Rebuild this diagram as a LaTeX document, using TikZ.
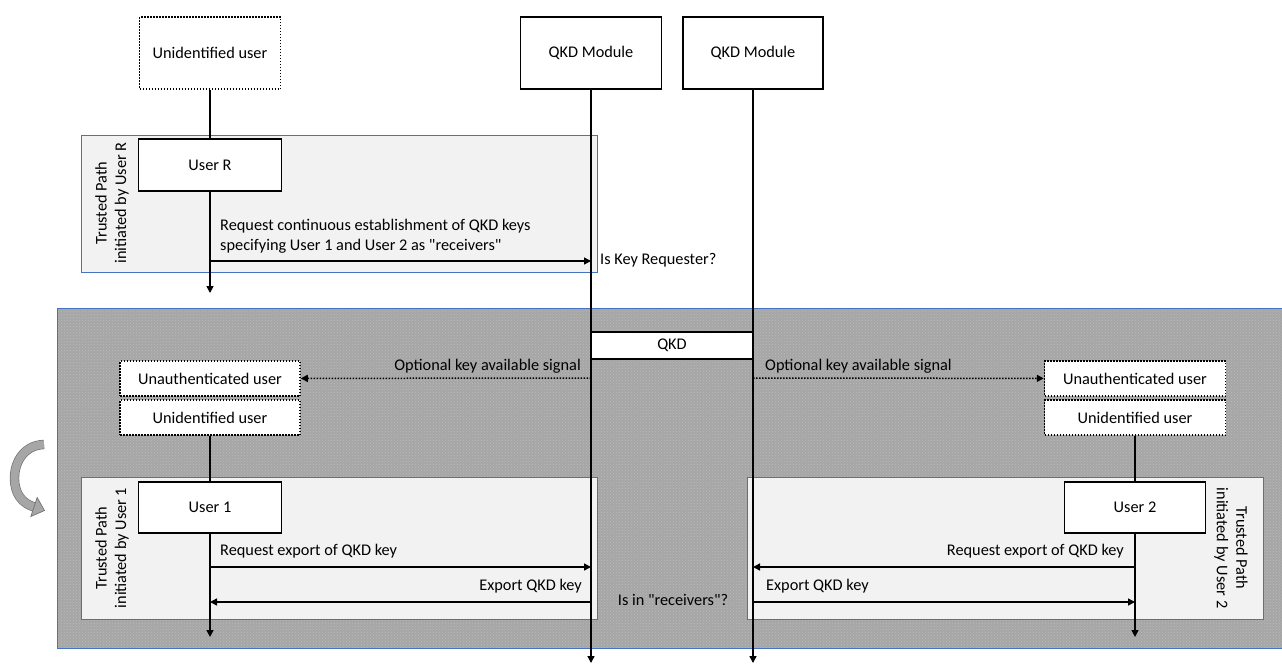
\documentclass[tikz,border=0pt]{standalone}
\usepackage{fontspec}
\setmainfont{Carlito}[Ligatures=TeXOff]
\usepackage{xcolor}
\usetikzlibrary{arrows.meta,patterns,calc}

\definecolor{pathblue}{HTML}{4472C4}
\definecolor{pathfill}{HTML}{F2F2F2}
\definecolor{zonegray}{HTML}{A6A6A6}

\begin{document}
\begin{tikzpicture}[x=1pt, y=-1pt,
  font=\fontsize{16.3}{19.5}\selectfont,
  actorbox/.style={draw, line width=1.5pt, fill=white, inner sep=0pt},
  unknownbox/.style={actorbox, dash pattern=on 1.5pt off 1.5pt},
  life/.style={line width=1.5pt},
  lifeend/.style={line width=1.5pt, -{Triangle[length=7pt,width=7pt]}},
  msg/.style={line width=1.5pt, -{Triangle[length=7pt,width=7pt]}},
  signal/.style={msg, dash pattern=on 1.5pt off 1.5pt},
  pathbox/.style={draw=pathblue, fill=pathfill, line width=0.9pt},
  sidelbl/.style={align=center, inner sep=0pt}]
  \useasboundingbox (0,0) rectangle (1282,664);

  % Zone of the continuous QKD exchange
  \fill[zonegray] (57,308) rectangle (1290,648);
  \fill[pattern=crosshatch dots, pattern color=black!27] (57,308) rectangle (1290,648);
  \draw[pathblue, line width=0.9pt] (57,308) rectangle (1290,648);

  % Trusted path boxes
  \draw[pathbox] (81,135) rectangle (597,272);
  \draw[pathbox] (81,477) rectangle (597,619);
  \draw[pathbox] (747,477) rectangle (1263,619);
  \node[sidelbl, rotate=90] (tpR) at (112,203) {Trusted Path\\initiated by User R};
  \node[sidelbl, rotate=90] (tp1) at (112,548) {Trusted Path\\initiated by User 1};
  \node[sidelbl, rotate=-90] (tp2) at (1231,548) {Trusted Path\\initiated by User 2};

  % Actors
  \node[unknownbox, minimum width=141pt, minimum height=72pt] (uu) at (210,53) {Unidentified user};
  \node[actorbox, minimum width=141pt, minimum height=72pt] (mod1) at (591,53) {QKD Module};
  \node[actorbox, minimum width=140pt, minimum height=72pt] (mod2) at (753,53) {QKD Module};
  \node[actorbox, minimum width=143pt, minimum height=52pt] (userR) at (210,165) {User R};
  \node[actorbox, minimum width=163pt, minimum height=27pt] (qkd) at (672,345.5) {QKD};
  \node[unknownbox, minimum width=180pt, minimum height=35pt] (unauthL) at (210,378.5) {Unauthenticated user};
  \node[unknownbox, minimum width=180pt, minimum height=35pt] (unidL) at (210,417.5) {Unidentified user};
  \node[unknownbox, minimum width=181pt, minimum height=35pt] (unauthR) at (1135,378.5) {Unauthenticated user};
  \node[unknownbox, minimum width=181pt, minimum height=35pt] (unidR) at (1135,417.5) {Unidentified user};
  \node[actorbox, minimum width=143pt, minimum height=51pt] (user1) at (210,507.5) {User 1};
  \node[actorbox, minimum width=141pt, minimum height=51pt] (user2) at (1135,507.5) {User 2};

  % Lifelines
  \coordinate (m1end) at (591,663);
  \coordinate (m2end) at (753,663);
  \coordinate (uRend) at (210,293);
  \coordinate (u1end) at (210,637);
  \coordinate (u2end) at (1135,637);
  \draw[lifeend] (mod1) -- (m1end);
  \draw[lifeend] (mod2) -- (m2end);
  \draw[life] (uu) -- (userR);
  \draw[lifeend] (userR) -- (uRend);
  \draw[life] (unidL) -- (user1);
  \draw[lifeend] (user1) -- (u1end);
  \draw[life] (unidR) -- (user2);
  \draw[lifeend] (user2) -- (u2end);

  % Key request by User R
  \draw[msg] (userR |- 0,261) -- (mod1 |- 0,261);
  \node[anchor=west, align=left, inner sep=0pt] (reqtxt) at (220,236)
    {Request continuous establishment of QKD keys\\specifying User 1 and User 2 as "receivers"};
  \node[anchor=west, inner sep=0pt] (isreq) at (600,260) {Is Key Requester?};

  % Optional signals
  \draw[signal] (mod1 |- 0,378) -- (unauthL);
  \draw[signal] (mod2 |- 0,378) -- (unauthR);
  \node[anchor=east, inner sep=0pt] (sigL) at (581,366) {Optional key available signal};
  \node[anchor=west, inner sep=0pt] (sigR) at (765,366) {Optional key available signal};

  % Key export
  \draw[msg] (user1 |- 0,567) -- (mod1 |- 0,567);
  \draw[msg] (mod1 |- 0,602) -- (user1 |- 0,602);
  \draw[msg] (user2 |- 0,567) -- (mod2 |- 0,567);
  \draw[msg] (mod2 |- 0,602) -- (user2 |- 0,602);
  \node[anchor=west, inner sep=0pt] (exreq1) at (220,551) {Request export of QKD key};
  \node[anchor=east, inner sep=0pt] (ex1) at (582,586) {Export QKD key};
  \node[anchor=east, inner sep=0pt] (exreq2) at (1124,551) {Request export of QKD key};
  \node[anchor=west, inner sep=0pt] (ex2) at (766,586) {Export QKD key};
  \node[inner sep=0pt] (isrecv) at (673,600) {Is in "receivers"?};

  % Curved arrow (repeat)
  \draw[draw=black!55, double=black!35, double distance=8pt, line width=0.7pt]
    (44,444.5) .. controls (25,445) and (14.5,461) .. (14.5,478)
    .. controls (14.5,494) and (22,503) .. (34,507);
  \filldraw[fill=black!35, draw=black!55, line width=0.7pt]
    (37.2,497.5) -- (44.5,510.5) -- (30.8,516.5) -- cycle;
\end{tikzpicture}
\end{document}
